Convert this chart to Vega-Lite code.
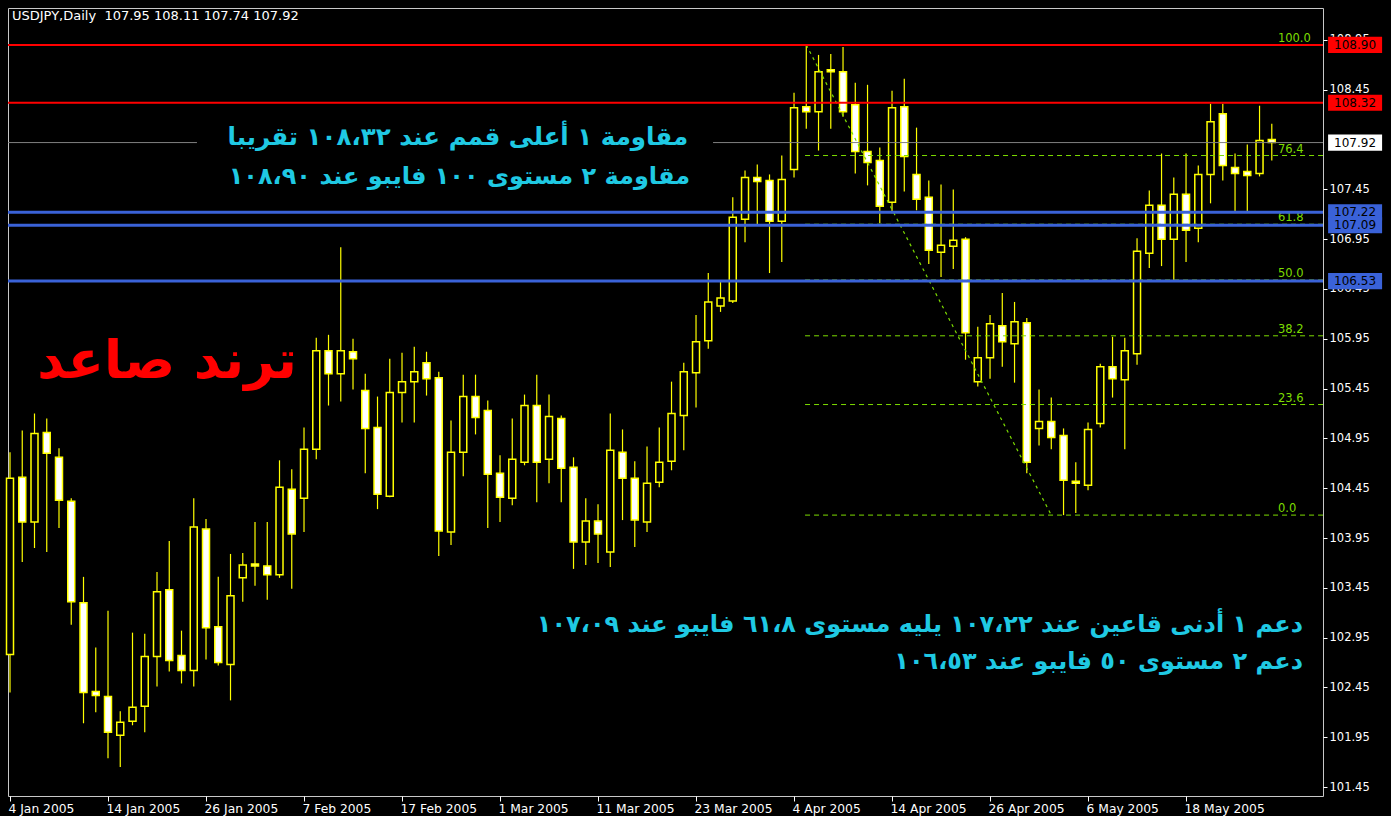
{
 "$schema": "https://vega.github.io/schema/vega-lite/v6.json",
 "width": 1315, "height": 788,
 "autosize": {"type": "none"},
 "padding": {"left": 8, "top": 8, "right": 68, "bottom": 20},
 "background": "#000000",
 "config": {"view": {"stroke": "#c8c8c8", "strokeWidth": 1}, "font": "DejaVu Sans"},
 "datasets": {
  "candles": [
   {"date":"4 Jan 2005","o":102.78,"h":104.81,"l":102.40,"c":104.55},
   {"date":"5 Jan 2005","o":104.56,"h":105.03,"l":103.71,"c":104.11},
   {"date":"6 Jan 2005","o":104.11,"h":105.20,"l":103.85,"c":105.00},
   {"date":"7 Jan 2005","o":105.01,"h":105.15,"l":103.81,"c":104.80},
   {"date":"10 Jan 2005","o":104.76,"h":104.85,"l":104.05,"c":104.33},
   {"date":"11 Jan 2005","o":104.32,"h":104.35,"l":103.08,"c":103.31},
   {"date":"12 Jan 2005","o":103.30,"h":103.56,"l":102.09,"c":102.40},
   {"date":"13 Jan 2005","o":102.41,"h":102.85,"l":102.20,"c":102.37},
   {"date":"14 Jan 2005","o":102.36,"h":103.22,"l":101.74,"c":102.00},
   {"date":"17 Jan 2005","o":101.97,"h":102.21,"l":101.65,"c":102.10},
   {"date":"18 Jan 2005","o":102.11,"h":103.00,"l":102.07,"c":102.25},
   {"date":"19 Jan 2005","o":102.26,"h":102.99,"l":102.00,"c":102.76},
   {"date":"20 Jan 2005","o":102.76,"h":103.61,"l":102.46,"c":103.41},
   {"date":"21 Jan 2005","o":103.43,"h":103.92,"l":102.61,"c":102.72},
   {"date":"24 Jan 2005","o":102.77,"h":103.02,"l":102.49,"c":102.62},
   {"date":"25 Jan 2005","o":102.62,"h":104.35,"l":102.46,"c":104.06},
   {"date":"26 Jan 2005","o":104.04,"h":104.14,"l":102.73,"c":103.05},
   {"date":"27 Jan 2005","o":103.06,"h":103.56,"l":102.67,"c":102.70},
   {"date":"28 Jan 2005","o":102.68,"h":103.79,"l":102.32,"c":103.37},
   {"date":"31 Jan 2005","o":103.55,"h":103.80,"l":103.31,"c":103.68},
   {"date":"1 Feb 2005","o":103.69,"h":104.11,"l":103.47,"c":103.67},
   {"date":"2 Feb 2005","o":103.67,"h":104.11,"l":103.33,"c":103.58},
   {"date":"3 Feb 2005","o":103.58,"h":104.73,"l":103.55,"c":104.46},
   {"date":"4 Feb 2005","o":104.44,"h":104.64,"l":103.44,"c":103.99},
   {"date":"7 Feb 2005","o":104.35,"h":105.06,"l":104.01,"c":104.84},
   {"date":"8 Feb 2005","o":104.84,"h":105.96,"l":104.74,"c":105.83},
   {"date":"9 Feb 2005","o":105.83,"h":105.99,"l":105.28,"c":105.60},
   {"date":"10 Feb 2005","o":105.60,"h":106.87,"l":105.32,"c":105.83},
   {"date":"11 Feb 2005","o":105.82,"h":105.95,"l":105.44,"c":105.75},
   {"date":"14 Feb 2005","o":105.43,"h":105.60,"l":104.60,"c":105.05},
   {"date":"15 Feb 2005","o":105.06,"h":105.37,"l":104.24,"c":104.39},
   {"date":"16 Feb 2005","o":104.37,"h":105.75,"l":104.36,"c":105.41},
   {"date":"17 Feb 2005","o":105.41,"h":105.81,"l":105.11,"c":105.52},
   {"date":"18 Feb 2005","o":105.52,"h":105.87,"l":105.11,"c":105.62},
   {"date":"21 Feb 2005","o":105.71,"h":105.82,"l":105.38,"c":105.55},
   {"date":"22 Feb 2005","o":105.56,"h":105.62,"l":103.77,"c":104.02},
   {"date":"23 Feb 2005","o":104.01,"h":105.13,"l":103.88,"c":104.81},
   {"date":"24 Feb 2005","o":104.81,"h":105.59,"l":104.57,"c":105.37},
   {"date":"25 Feb 2005","o":105.37,"h":105.59,"l":104.99,"c":105.16},
   {"date":"28 Feb 2005","o":105.23,"h":105.33,"l":104.05,"c":104.59},
   {"date":"1 Mar 2005","o":104.60,"h":104.78,"l":104.11,"c":104.36},
   {"date":"2 Mar 2005","o":104.35,"h":105.15,"l":104.28,"c":104.74},
   {"date":"3 Mar 2005","o":104.71,"h":105.39,"l":104.68,"c":105.28},
   {"date":"4 Mar 2005","o":105.28,"h":105.59,"l":104.31,"c":104.71},
   {"date":"7 Mar 2005","o":104.74,"h":105.39,"l":104.50,"c":105.17},
   {"date":"8 Mar 2005","o":105.15,"h":105.18,"l":104.31,"c":104.65},
   {"date":"9 Mar 2005","o":104.66,"h":104.76,"l":103.64,"c":103.91},
   {"date":"10 Mar 2005","o":103.91,"h":104.35,"l":103.68,"c":104.12},
   {"date":"11 Mar 2005","o":104.12,"h":104.29,"l":103.70,"c":103.99},
   {"date":"14 Mar 2005","o":103.81,"h":105.20,"l":103.66,"c":104.83},
   {"date":"15 Mar 2005","o":104.81,"h":105.04,"l":104.13,"c":104.55},
   {"date":"16 Mar 2005","o":104.55,"h":104.72,"l":103.86,"c":104.13},
   {"date":"17 Mar 2005","o":104.11,"h":104.87,"l":104.01,"c":104.50},
   {"date":"18 Mar 2005","o":104.51,"h":105.06,"l":104.46,"c":104.71},
   {"date":"21 Mar 2005","o":104.72,"h":105.52,"l":104.63,"c":105.20},
   {"date":"22 Mar 2005","o":105.18,"h":105.71,"l":104.83,"c":105.62},
   {"date":"23 Mar 2005","o":105.61,"h":106.19,"l":105.26,"c":105.92},
   {"date":"24 Mar 2005","o":105.93,"h":106.61,"l":105.85,"c":106.32},
   {"date":"25 Mar 2005","o":106.28,"h":106.52,"l":106.22,"c":106.36},
   {"date":"28 Mar 2005","o":106.33,"h":107.37,"l":106.31,"c":107.17},
   {"date":"29 Mar 2005","o":107.15,"h":107.64,"l":106.92,"c":107.57},
   {"date":"30 Mar 2005","o":107.57,"h":107.70,"l":107.10,"c":107.53},
   {"date":"31 Mar 2005","o":107.54,"h":107.60,"l":106.61,"c":107.13},
   {"date":"1 Apr 2005","o":107.13,"h":107.79,"l":106.72,"c":107.55},
   {"date":"4 Apr 2005","o":107.65,"h":108.42,"l":107.57,"c":108.27},
   {"date":"5 Apr 2005","o":108.28,"h":108.90,"l":108.06,"c":108.23},
   {"date":"6 Apr 2005","o":108.23,"h":108.80,"l":107.84,"c":108.63},
   {"date":"7 Apr 2005","o":108.65,"h":108.81,"l":108.06,"c":108.63},
   {"date":"8 Apr 2005","o":108.63,"h":108.88,"l":108.18,"c":108.23},
   {"date":"11 Apr 2005","o":108.30,"h":108.52,"l":107.61,"c":107.83},
   {"date":"12 Apr 2005","o":107.83,"h":108.50,"l":107.49,"c":107.72},
   {"date":"13 Apr 2005","o":107.74,"h":107.87,"l":107.11,"c":107.28},
   {"date":"14 Apr 2005","o":107.32,"h":108.44,"l":107.21,"c":108.27},
   {"date":"15 Apr 2005","o":108.28,"h":108.56,"l":107.43,"c":107.78},
   {"date":"18 Apr 2005","o":107.60,"h":108.07,"l":107.24,"c":107.35},
   {"date":"19 Apr 2005","o":107.37,"h":107.54,"l":106.70,"c":106.84},
   {"date":"20 Apr 2005","o":106.82,"h":107.50,"l":106.57,"c":106.89},
   {"date":"21 Apr 2005","o":106.88,"h":107.45,"l":106.65,"c":106.94},
   {"date":"22 Apr 2005","o":106.95,"h":106.97,"l":105.74,"c":106.01},
   {"date":"25 Apr 2005","o":105.52,"h":106.07,"l":105.47,"c":105.76},
   {"date":"26 Apr 2005","o":105.76,"h":106.19,"l":105.55,"c":106.10},
   {"date":"27 Apr 2005","o":106.08,"h":106.41,"l":105.67,"c":105.92},
   {"date":"28 Apr 2005","o":105.90,"h":106.32,"l":105.51,"c":106.12},
   {"date":"29 Apr 2005","o":106.11,"h":106.16,"l":104.60,"c":104.71},
   {"date":"2 May 2005","o":105.05,"h":105.44,"l":104.88,"c":105.12},
   {"date":"3 May 2005","o":105.12,"h":105.36,"l":104.84,"c":104.96},
   {"date":"4 May 2005","o":104.98,"h":105.05,"l":104.18,"c":104.53},
   {"date":"5 May 2005","o":104.52,"h":104.71,"l":104.20,"c":104.50},
   {"date":"6 May 2005","o":104.48,"h":105.11,"l":104.43,"c":105.04},
   {"date":"9 May 2005","o":105.10,"h":105.70,"l":105.06,"c":105.67},
   {"date":"10 May 2005","o":105.67,"h":105.97,"l":105.36,"c":105.55},
   {"date":"11 May 2005","o":105.54,"h":105.96,"l":104.84,"c":105.83},
   {"date":"12 May 2005","o":105.80,"h":106.96,"l":105.69,"c":106.83},
   {"date":"13 May 2005","o":106.81,"h":107.44,"l":106.66,"c":107.29},
   {"date":"16 May 2005","o":107.29,"h":107.81,"l":106.68,"c":106.95},
   {"date":"17 May 2005","o":106.95,"h":107.57,"l":106.54,"c":107.40},
   {"date":"18 May 2005","o":107.40,"h":107.81,"l":106.72,"c":107.04},
   {"date":"19 May 2005","o":107.06,"h":107.69,"l":106.92,"c":107.60},
   {"date":"20 May 2005","o":107.60,"h":108.31,"l":107.31,"c":108.13},
   {"date":"23 May 2005","o":108.21,"h":108.31,"l":107.54,"c":107.69},
   {"date":"24 May 2005","o":107.67,"h":107.81,"l":107.22,"c":107.61},
   {"date":"25 May 2005","o":107.63,"h":107.90,"l":107.23,"c":107.59},
   {"date":"26 May 2005","o":107.61,"h":108.29,"l":107.58,"c":107.94},
   {"date":"27 May 2005","o":107.95,"h":108.11,"l":107.74,"c":107.92}
  ],
  "levels": [
   {"kind":"resistance","p":108.90},
   {"kind":"resistance","p":108.32},
   {"kind":"price","p":107.92},
   {"kind":"support","p":107.22},
   {"kind":"support","p":107.09},
   {"kind":"support","p":106.53}
  ],
  "fib": [
   {"lvl":"100.0","p":108.90},
   {"lvl":"76.4","p":107.79},
   {"lvl":"61.8","p":107.10},
   {"lvl":"50.0","p":106.54},
   {"lvl":"38.2","p":105.98},
   {"lvl":"23.6","p":105.29},
   {"lvl":"0.0","p":104.18}
  ]
 },
 "layer": [
  {
   "data": {"name": "candles"},
   "transform": [{"window": [{"op": "row_number", "as": "i"}]}],
   "mark": {"type": "rule", "color": "#ffff00", "strokeWidth": 1.2},
   "encoding": {
    "x": {"field": "i", "type": "quantitative",
     "scale": {"domain": [0.8367, 108.18], "nice": false, "zero": false, "padding": 0},
     "axis": {"orient": "bottom", "values": [1,9,17,25,33,41,49,57,65,73,81,89,97],
      "labelExpr": "['4 Jan 2005','14 Jan 2005','26 Jan 2005','7 Feb 2005','17 Feb 2005','1 Mar 2005','11 Mar 2005','23 Mar 2005','4 Apr 2005','14 Apr 2005','26 Apr 2005','6 May 2005','18 May 2005'][(datum.value-1)/8]",
      "title": null, "domain": false, "grid": false, "tickColor": "#ffffff", "tickSize": 5,
      "labelColor": "#ffffff", "labelFontSize": 12.3, "labelFont": "DejaVu Sans", "labelAlign": "left",
      "labelOffset": -2, "labelPadding": 1, "labelBound": false, "labelOverlap": false, "labelFlush": false}},
    "y": {"field": "l", "type": "quantitative",
     "scale": {"domain": [101.36, 109.271], "nice": false, "zero": false, "padding": 0},
     "axis": {"orient": "right", "values": [101.45,101.95,102.45,102.95,103.45,103.95,104.45,104.95,105.45,105.95,106.45,106.95,107.45,108.45,108.95],
      "format": ".2f", "title": null, "domain": false, "grid": false, "tickColor": "#ffffff", "tickSize": 4,
      "labelColor": "#ffffff", "labelFontSize": 11.5, "labelFont": "DejaVu Sans", "labelPadding": 2,
      "labelBound": false, "labelOverlap": false, "labelFlush": false}},
    "y2": {"field": "h"}
   }
  },
  {
   "data": {"name": "candles"},
   "transform": [{"window": [{"op": "row_number", "as": "i"}]}],
   "mark": {"type": "bar", "width": 7, "stroke": "#ffff00", "strokeWidth": 1.5, "orient": "vertical"},
   "encoding": {
    "x": {"field": "i", "type": "quantitative"},
    "y": {"field": "o", "type": "quantitative"},
    "y2": {"field": "c"},
    "fill": {"condition": {"test": "datum.c < datum.o", "value": "#ffffff"}, "value": "#000000"}
   }
  },
  {
   "data": {"name": "fib"},
   "mark": {"type": "rule", "color": "#7cdc00", "strokeWidth": 1, "strokeDash": [5, 4]},
   "encoding": {
    "x": {"datum": 65.9, "type": "quantitative"},
    "x2": {"datum": 108.18},
    "y": {"field": "p", "type": "quantitative"}
   }
  },
  {
   "data": {"name": "fib"},
   "mark": {"type": "text", "color": "#7cdc00", "fontSize": 11.5, "font": "DejaVu Sans", "align": "left", "baseline": "bottom", "dy": -1},
   "encoding": {
    "x": {"datum": 104.5, "type": "quantitative"},
    "y": {"field": "p", "type": "quantitative"},
    "text": {"field": "lvl"}
   }
  },
  {
   "data": {"values": [{}]},
   "mark": {"type": "rule", "color": "#7cdc00", "strokeWidth": 1.2, "strokeDash": [3, 4]},
   "encoding": {
    "x": {"datum": 66, "type": "quantitative"},
    "x2": {"datum": 86},
    "y": {"datum": 108.90, "type": "quantitative"},
    "y2": {"datum": 104.18}
   }
  },
  {
   "data": {"name": "levels"},
   "transform": [{"filter": "datum.kind == 'price'"}],
   "mark": {"type": "rule", "color": "#808080", "strokeWidth": 1},
   "encoding": {
    "x": {"datum": 0.8367, "type": "quantitative"},
    "x2": {"datum": 16.26},
    "y": {"field": "p", "type": "quantitative"}
   }
  },
  {
   "data": {"name": "levels"},
   "transform": [{"filter": "datum.kind == 'price'"}],
   "mark": {"type": "rule", "color": "#808080", "strokeWidth": 1},
   "encoding": {
    "x": {"datum": 58.39, "type": "quantitative"},
    "x2": {"datum": 108.18},
    "y": {"field": "p", "type": "quantitative"}
   }
  },
  {
   "data": {"name": "levels"},
   "transform": [{"filter": "datum.kind == 'resistance'"}],
   "mark": {"type": "rule", "color": "#ff0000", "strokeWidth": 2},
   "encoding": {"y": {"field": "p", "type": "quantitative"}}
  },
  {
   "data": {"name": "levels"},
   "transform": [{"filter": "datum.kind == 'support'"}],
   "mark": {"type": "rule", "color": "#3a62d8", "strokeWidth": 3},
   "encoding": {"y": {"field": "p", "type": "quantitative"}}
  },
  {
   "data": {"name": "levels"},
   "mark": {"type": "point", "shape": "M-1,-0.3H1V0.3H-1Z", "size": 2916, "filled": true, "opacity": 1},
   "encoding": {
    "x": {"datum": 110.8, "type": "quantitative"},
    "y": {"field": "p", "type": "quantitative"},
    "fill": {"field": "kind", "type": "nominal", "scale": {"domain": ["resistance", "support", "price"], "range": ["#ff0000", "#3a62d8", "#ffffff"]}, "legend": null}
   }
  },
  {
   "data": {"name": "levels"},
   "mark": {"type": "text", "color": "#000000", "fontSize": 12, "font": "DejaVu Sans", "align": "center", "baseline": "middle"},
   "encoding": {
    "x": {"datum": 110.8, "type": "quantitative"},
    "y": {"field": "p", "type": "quantitative"},
    "text": {"field": "p", "type": "quantitative", "format": ".2f"}
   }
  },
  {
   "data": {"values": [{}]},
   "mark": {"type": "text", "text": "USDJPY,Daily\u00a0\u00a0107.95 108.11 107.74 107.92", "color": "#ffffff", "fontSize": 13, "font": "DejaVu Sans", "align": "left", "baseline": "middle"},
   "encoding": {"x": {"datum": 1.163, "type": "quantitative"}, "y": {"datum": 109.19, "type": "quantitative"}}
  },
  {
   "data": {"values": [{}]},
   "mark": {"type": "text", "text": "مقاومة ١ أعلى قمم عند ١٠٨،٣٢ تقريبا", "color": "#1fc9e3", "fontSize": 24.5, "fontWeight": "bold", "font": "DejaVu Sans", "align": "right", "baseline": "middle"},
   "encoding": {"x": {"datum": 56.35, "type": "quantitative"}, "y": {"datum": 107.966, "type": "quantitative"}}
  },
  {
   "data": {"values": [{}]},
   "mark": {"type": "text", "text": "مقاومة ٢ مستوى ١٠٠ فايبو عند ١٠٨،٩٠", "color": "#1fc9e3", "fontSize": 24, "fontWeight": "bold", "font": "DejaVu Sans", "align": "right", "baseline": "middle"},
   "encoding": {"x": {"datum": 56.51, "type": "quantitative"}, "y": {"datum": 107.574, "type": "quantitative"}}
  },
  {
   "data": {"values": [{}]},
   "mark": {"type": "text", "text": "ترند صاعد", "color": "#ff0000", "fontSize": 53, "fontWeight": "bold", "font": "DejaVu Sans", "align": "right", "baseline": "middle"},
   "encoding": {"x": {"datum": 24.43, "type": "quantitative"}, "y": {"datum": 105.717, "type": "quantitative"}}
  },
  {
   "data": {"values": [{}]},
   "mark": {"type": "text", "text": "دعم ١ أدنى قاعين عند ١٠٧،٢٢ يليه مستوى ٦١،٨ فايبو عند ١٠٧،٠٩", "color": "#1fc9e3", "fontSize": 24, "fontWeight": "bold", "font": "DejaVu Sans", "align": "right", "baseline": "middle"},
   "encoding": {"x": {"datum": 106.55, "type": "quantitative"}, "y": {"datum": 103.077, "type": "quantitative"}}
  },
  {
   "data": {"values": [{}]},
   "mark": {"type": "text", "text": "دعم ٢ مستوى ٥٠ فايبو عند ١٠٦،٥٣", "color": "#1fc9e3", "fontSize": 24, "fontWeight": "bold", "font": "DejaVu Sans", "align": "right", "baseline": "middle"},
   "encoding": {"x": {"datum": 106.55, "type": "quantitative"}, "y": {"datum": 102.705, "type": "quantitative"}}
  }
 ]
}
